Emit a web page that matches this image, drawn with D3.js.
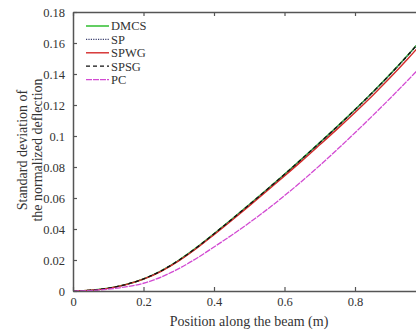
<!DOCTYPE html>
<html>
<head>
<meta charset="utf-8">
<script src="https://cdn.jsdelivr.net/npm/d3@7"></script>
<style>
  html, body { margin: 0; padding: 0; background: #fff; }
  svg { display: block; font-family: "Liberation Serif", "DejaVu Serif", serif; }
</style>
</head>
<body>
<div id="chart"></div>
<script>
const positions = [0, 0.05, 0.1, 0.15, 0.2, 0.25, 0.3, 0.35, 0.4, 0.45, 0.5,
  0.55, 0.6, 0.65, 0.7, 0.75, 0.8, 0.85, 0.9, 0.95, 1.0];
const dmcs = [0, 0.0005, 0.0018, 0.0042, 0.0078, 0.0130, 0.0198, 0.0279, 0.0369, 0.0462, 0.0557,
  0.0654, 0.0753, 0.0854, 0.0957, 0.1062, 0.1170, 0.1282, 0.1399, 0.1522, 0.1652];
const sp = [0, 0.0005, 0.0018, 0.0042, 0.0078, 0.0130, 0.0197, 0.0278, 0.0368, 0.0461, 0.0556,
  0.0653, 0.0752, 0.0852, 0.0955, 0.1060, 0.1168, 0.1280, 0.1397, 0.1520, 0.1650];
const spwg = [0, 0.0005, 0.0017, 0.0041, 0.0076, 0.0127, 0.0194, 0.0274, 0.0363, 0.0455, 0.0549,
  0.0645, 0.0742, 0.0841, 0.0943, 0.1046, 0.1152, 0.1262, 0.1377, 0.1498, 0.1625];
const spsg = [0, 0.0005, 0.0018, 0.0042, 0.0078, 0.0130, 0.0198, 0.0279, 0.0369, 0.0462, 0.0557,
  0.0654, 0.0753, 0.0854, 0.0957, 0.1062, 0.1170, 0.1282, 0.1399, 0.1522, 0.1652];
const pc = [0, 0.0003, 0.0012, 0.0027, 0.0050, 0.0090, 0.0144, 0.0210, 0.0284, 0.0360, 0.0440,
  0.0525, 0.0615, 0.0710, 0.0810, 0.0914, 0.1021, 0.1131, 0.1244, 0.1360, 0.1479];

const xTicks = [0, 0.2, 0.4, 0.6, 0.8, 1];
const xTickLabels = ['0', '0.2', '0.4', '0.6', '0.8', ''];
const yTicks = [0, 0.02, 0.04, 0.06, 0.08, 0.1, 0.12, 0.14, 0.16, 0.18];

const series = [
  { name: 'DMCS', values: dmcs, color: '#3cc23c', dash: null, width: 1.6 },
  { name: 'SP', values: sp, color: '#3a3f6e', dash: '1.2,1.2', width: 1.2 },
  { name: 'SPWG', values: spwg, color: '#d42a2a', dash: null, width: 1.4 },
  { name: 'SPSG', values: spsg, color: '#111111', dash: '4,3', width: 1.3 },
  { name: 'PC', values: pc, color: '#d24ad2', dash: '6,1', width: 1.3 },
];

const width = 416;
const height = 332;
const margin = { top: 12, left: 73, bottom: 41 };
const plotRight = 425.5; // right edge of the axes lies just past the crop

const svg = d3.select('#chart')
  .append('svg')
  .attr('width', width)
  .attr('height', height);

const x = d3.scaleLinear().domain([0, 1]).range([margin.left, plotRight]);
const y = d3.scaleLinear().domain([0, 0.18]).range([height - margin.bottom, margin.top]);

const axisColor = '#555';
const labelColor = '#333';
const serif = '"Liberation Serif", "DejaVu Serif", serif';

// curves
const line = d3.line()
  .x(d => x(d[0]))
  .y(d => y(d[1]))
  .curve(d3.curveMonotoneX);

series.forEach(s => {
  svg.append('path')
    .datum(positions.map((p, i) => [p, s.values[i]]))
    .attr('fill', 'none')
    .attr('stroke', s.color)
    .attr('stroke-width', s.width)
    .attr('stroke-dasharray', s.dash)
    .attr('d', line);
});

// axes, ticks drawn inward
const styleAxis = g => {
  g.attr('font-family', serif);
  g.select('.domain').attr('stroke', axisColor).attr('stroke-width', 1.5);
  g.selectAll('.tick line').attr('stroke', axisColor).attr('stroke-width', 1.2);
  g.selectAll('text').attr('fill', labelColor).style('font-size', '12.5px')
    .style('font-family', serif);
};

svg.append('g')
  .attr('transform', `translate(0,${y(0)})`)
  .call(d3.axisBottom(x).tickValues(xTicks).tickSizeInner(-4).tickSizeOuter(0)
    .tickPadding(6).tickFormat((d, i) => xTickLabels[i]))
  .call(styleAxis);

svg.append('g')
  .attr('transform', `translate(0,${y(0.18)})`)
  .call(d3.axisTop(x).tickValues(xTicks).tickSizeInner(-4).tickSizeOuter(0).tickFormat(''))
  .call(styleAxis);

svg.append('g')
  .attr('transform', `translate(${x(0)},0)`)
  .call(d3.axisLeft(y).tickValues(yTicks).tickSizeInner(-4).tickSizeOuter(0)
    .tickPadding(8).tickFormat(d3.format('~g')))
  .call(styleAxis);

// axis titles
svg.append('text')
  .attr('x', 249)
  .attr('y', 326)
  .attr('text-anchor', 'middle')
  .attr('fill', labelColor)
  .style('font-size', '14px')
  .text('Position along the beam (m)');

const yTitle = svg.append('text')
  .attr('transform', 'translate(27,150) rotate(-90)')
  .attr('text-anchor', 'middle')
  .attr('fill', labelColor)
  .style('font-size', '14px');
yTitle.append('tspan').attr('x', 0).attr('dy', 0).text('Standard deviation of');
yTitle.append('tspan').attr('x', 0).attr('dy', 14.5).text('the normalized deflection');

// legend
const legend = svg.append('g').attr('transform', 'translate(86,26)');
series.forEach((s, i) => {
  const row = legend.append('g').attr('transform', `translate(0,${i * 13.4})`);
  row.append('line')
    .attr('x1', 0).attr('x2', 23)
    .attr('stroke', s.color)
    .attr('stroke-width', s.width)
    .attr('stroke-dasharray', s.dash);
  row.append('text')
    .attr('x', 25)
    .attr('dy', '0.35em')
    .attr('fill', labelColor)
    .style('font-size', '12.5px')
    .text(s.name);
});
</script>
</body>
</html>
